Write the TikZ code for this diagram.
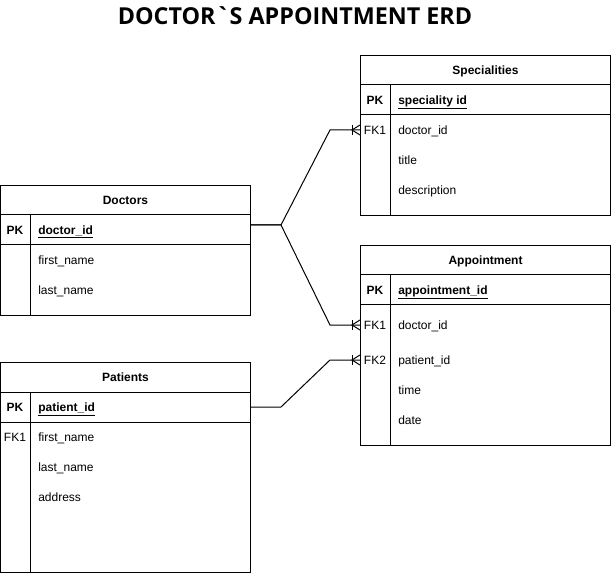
\documentclass[tikz,border=0pt]{standalone}
\usepackage{fontspec}
\setmainfont{Liberation Sans}
\newfontfamily\titlefont{Open Sans}
\usetikzlibrary{positioning,calc}
\tikzset{
  % ---- tables ---------------------------------------------------------
  ertable/.style={draw, line width=0.75pt, anchor=north west,
    minimum width=187.5pt, inner sep=0pt},
  erkey/.style={font=\fontsize{9pt}{11pt}\selectfont, inner sep=0pt,
    text height=6.5pt, text depth=0pt},
  erhead/.style={erkey, font=\fontsize{9pt}{11pt}\selectfont\bfseries},
  erpk/.style={erkey, font=\fontsize{9pt}{11pt}\selectfont\bfseries},
  erfield/.style={erkey, anchor=west},
  erline/.style={draw, line width=0.75pt},
  ertitle/.style={font=\titlefont\fontsize{17.5pt}{20pt}\selectfont\bfseries,
    inner sep=0pt, text height=12.6pt, text depth=0pt},
  % ---- crow's foot (one and many) -------------------------------------
  crowfoot/.pic={
    \draw[erline] (-8,-5) -- (-8,5);
    \draw[erline] (0,-5) -- (-8,0) -- (0,5);
  },
}
\begin{document}
\begin{tikzpicture}[x=0.75pt, y=-0.75pt]
\useasboundingbox (0,0) rectangle (611,574);

\node[ertitle] (title) at (295,16) {DOCTOR\char"60 S APPOINTMENT ERD};

% ---- table frames ----------------------------------------------------
\foreach \name/\x/\y/\h/\caption in {spec/360/55/120/Specialities,
    doc/0/185/97.5/Doctors, appt/360/245/150/Appointment,
    pat/0/362/157.5/Patients}{
  \node[ertable, minimum height=\h pt] (\name) at (\x,\y) {};
  \node[erhead] (\name-head) at ($(\name.north)+(0,15)$) {\caption};
  \draw[erline] ($(\name.north west)+(0,30)$) -- ($(\name.north east)+(0,30)$);
  \draw[erline] ($(\name.north west)+(0,60)$) -- ($(\name.north east)+(0,60)$);
  \draw[erline] ($(\name.north west)+(30,30)$) -- ($(\name.south west)+(30,0)$);
}

% ---- Specialities ----------------------------------------------------
\node[erpk] (spec-pkkey) at (375,100) {PK};
\node[erfield] (spec-pk) at (398,100) {\textbf{\underline{speciality id}}};
\node[erkey] (spec-fk1key) at (375,130) {FK1};
\node[erfield] (spec-f1) at (398,130) {doctor\_id};
\node[erfield] (spec-f2) at (398,160) {title};
\node[erfield] (spec-f3) at (398,190) {description};

% ---- Doctors ---------------------------------------------------------
\node[erpk] (doc-pkkey) at (15,230) {PK};
\node[erfield] (doc-pk) at (38,230) {\textbf{\underline{doctor\_id}}};
\node[erfield] (doc-f1) at (38,260) {first\_name};
\node[erfield] (doc-f2) at (38,290) {last\_name};

% ---- Appointment -----------------------------------------------------
\node[erpk] (appt-pkkey) at (375,290) {PK};
\node[erfield] (appt-pk) at (398,290) {\textbf{\underline{appointment\_id}}};
\node[erkey] (appt-fk1key) at (375,325) {FK1};
\node[erfield] (appt-f1) at (398,325) {doctor\_id};
\node[erkey] (appt-fk2key) at (375,360) {FK2};
\node[erfield] (appt-f2) at (398,360) {patient\_id};
\node[erfield] (appt-f3) at (398,390) {time};
\node[erfield] (appt-f4) at (398,420) {date};

% ---- Patients --------------------------------------------------------
\node[erpk] (pat-pkkey) at (15,407) {PK};
\node[erfield] (pat-pk) at (38,407) {\textbf{\underline{patient\_id}}};
\node[erkey] (pat-fk1key) at (15,437) {FK1};
\node[erfield] (pat-f1) at (38,437) {first\_name};
\node[erfield] (pat-f2) at (38,467) {last\_name};
\node[erfield] (pat-f3) at (38,497) {address};

% ---- relations -------------------------------------------------------
\coordinate (doc-out) at ($(doc.east |- doc-pk)+(0,-5)$);
\coordinate (spec-in) at (spec.west |- spec-f1);
\coordinate (appt-in1) at (appt.west |- appt-f1);
\coordinate (appt-in2) at (appt.west |- appt-f2);
\coordinate (pat-out) at (pat.east |- pat-pk);

\draw[erline] (doc-out) -- ++(30,0) -- ($(spec-in)+(-30,0)$) -- (spec-in);
\draw[erline] (doc-out) -- ++(30,0) -- ($(appt-in1)+(-30,0)$) -- (appt-in1);
\draw[erline] (pat-out) -- ++(30,0) -- ($(appt-in2)+(-30,0)$) -- (appt-in2);
\pic at (spec-in) {crowfoot};
\pic at (appt-in1) {crowfoot};
\pic at (appt-in2) {crowfoot};

\end{tikzpicture}
\end{document}
